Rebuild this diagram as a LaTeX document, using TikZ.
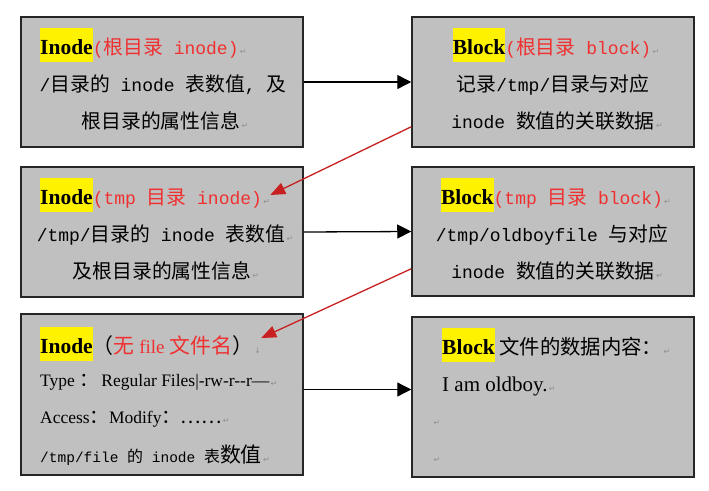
\documentclass[tikz,border=0pt]{standalone}
\usepackage{fontspec}
\setmainfont{Liberation Serif}
\setmonofont{Liberation Mono}
\newfontfamily\cjk[Scale=1.1]{Noto Sans CJK SC}
\newfontfamily\symb{DejaVu Sans}
\usetikzlibrary{arrows.meta,calc}

\definecolor{boxgray}{HTML}{C0C0C0}
\definecolor{hlyellow}{HTML}{FFF200}
\definecolor{redtxt}{HTML}{F03030}
\definecolor{redline}{HTML}{C82020}
\definecolor{markgray}{HTML}{909090}

\newcommand\zh[1]{{\cjk #1}}
\newcommand\hl[1]{{\setlength{\fboxsep}{0pt}\colorbox{hlyellow}{\fontsize{21.5}{22}\selectfont\rule[-8pt]{0pt}{34pt}\bfseries #1}}}
\newcommand\pmark{{\symb\fontsize{8}{8}\selectfont\color{markgray}\,↵}}
\newcommand\dmark{{\symb\fontsize{8}{8}\selectfont\color{markgray}\,↓}}

\begin{document}
\begin{tikzpicture}[x=1pt,y=-1pt,
	infobox/.style={draw=black!85,line width=1.5pt,fill=boxgray,inner sep=0pt,minimum width=282pt},
	line/.style={inner sep=0pt,font=\fontsize{18}{20}\selectfont},
	link/.style={line width=1.3pt,-{Triangle[length=14pt,width=14pt]}},
	redlink/.style={line width=1.3pt,color=redline,-{Triangle[length=15pt,width=12pt]}}]
	%%%%% START %%%%%
	
	\useasboundingbox[fill=white] (0,0) rectangle (709,490);
	
	\node[infobox,minimum height=130pt] (b1) at (162,82) {};
	\node[infobox,minimum height=130pt] (b2) at (553,82) {};
	\node[infobox,minimum height=130pt] (b3) at (162,232) {};
	\node[infobox,minimum height=129pt] (b4) at (553,231.5) {};
	\node[infobox,minimum height=161pt] (b5) at (162,394.5) {};
	\node[infobox,minimum height=160pt] (b6) at (553,397) {};
	
	% root inode / root block
	\node[line,anchor=base west] (t1a) at (40,54) {\hl{Inode}\textcolor{redtxt}{\ttfamily(\zh{根目录} inode)}\pmark};
	\node[line,anchor=base] (t1b) at (163,91) {\ttfamily /\zh{目录的} inode \zh{表数值}, \zh{及}};
	\node[line,anchor=base] (t1c) at (165,128) {\zh{根目录的属性信息}\pmark};
	
	\node[line,anchor=base] (t2a) at (556,54) {\hl{Block}\textcolor{redtxt}{\ttfamily(\zh{根目录} block)}\pmark};
	\node[line,anchor=base] (t2b) at (553,91) {\ttfamily \zh{记录}/tmp/\zh{目录与对应}};
	\node[line,anchor=base] (t2c) at (557,128) {\ttfamily inode \zh{数值的关联数据}\pmark};
	
	% tmp inode / tmp block
	\node[line,anchor=base west] (t3a) at (40,204) {\hl{Inode}\textcolor{redtxt}{\ttfamily(tmp \zh{目录} inode)}\pmark};
	\node[line,anchor=base] (t3b) at (165,241) {\ttfamily /tmp/\zh{目录的} inode \zh{表数值}\pmark};
	\node[line,anchor=base] (t3c) at (166,278) {\zh{及根目录的属性信息}\pmark};
	
	\node[line,anchor=base] (t4a) at (556,204) {\hl{Block}\textcolor{redtxt}{\ttfamily(tmp \zh{目录} block)}\pmark};
	\node[line,anchor=base] (t4b) at (552,241) {\ttfamily /tmp/oldboyfile \zh{与对应}};
	\node[line,anchor=base] (t4c) at (557,278) {\ttfamily inode \zh{数值的关联数据}\pmark};
	
	% file inode / file block
	\node[line,anchor=base west] (t5a) at (40,353) {\hl{Inode}{\fontsize{19}{20}\selectfont\zh{（}\textcolor{redtxt}{\zh{无} file \zh{文件名}}\zh{）}}\dmark};
	\node[line,anchor=base west,font=\fontsize{17.5}{19}\selectfont] (t5b) at (40,386) {Type \zh{：}\,Regular Files|-rw-r-{}-r—\pmark};
	\node[line,anchor=base west,font=\fontsize{17.5}{19}\selectfont] (t5c) at (40,423) {Access\zh{：}Modify\zh{：}\zh{……}\pmark};
	\node[line,anchor=base west,font=\fontsize{14.5}{16}\selectfont] (t5d) at (40,462) {\ttfamily /tmp/file \zh{的} inode \zh{表}{\fontsize{19}{20}\selectfont\zh{数值}}\pmark};
	
	\node[line,anchor=base west,font=\fontsize{18.5}{20}\selectfont] (t6a) at (442,354) {\hl{Block} \zh{文件的数据内容：}\pmark};
	\node[line,anchor=base west,font=\fontsize{21}{24}\selectfont] (t6b) at (442,391) {I am oldboy.\pmark};
	\node[line,anchor=base west] (t6c) at (432,425) {\pmark};
	\node[line,anchor=base west] (t6d) at (432,462) {\pmark};
	
	% connectors
	\draw[link] (b1.east) -- (b2.west);
	\draw[link] (b3.east) -- (b4.west);
	\draw[link] ([yshift=5pt]b5.east) -- ([yshift=5pt]b5.east -| b6.west);
	
	\draw[redlink] ([yshift=21pt]b2.south west) -- (t3a.east);
	\draw[redlink] ([yshift=28pt]b4.south west) -- ([yshift=6pt]t5a.east);
	
	%%%%% END %%%%%
\end{tikzpicture}
\end{document}
